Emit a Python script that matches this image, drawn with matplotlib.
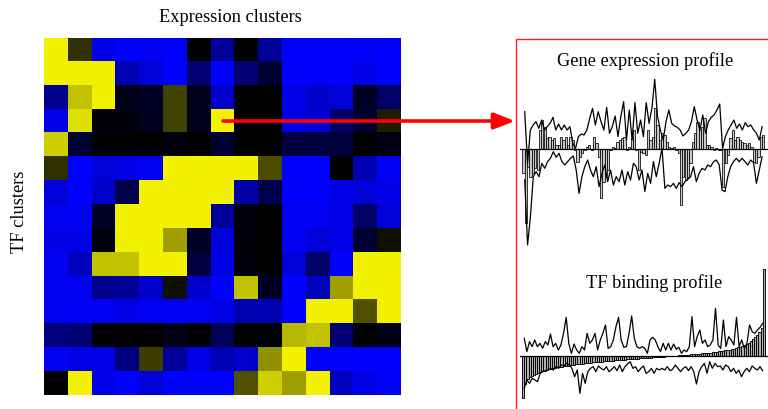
import numpy as np
import matplotlib
matplotlib.use('Agg')
import matplotlib.pyplot as plt
from matplotlib.colors import LinearSegmentedColormap
from matplotlib.patches import FancyArrowPatch, Rectangle

plt.rcParams['font.family'] = ['Liberation Serif', 'DejaVu Serif']

W, H = 768, 409

# heatmap values: -1 blue, 0 black, 1 yellow (rows top to bottom)
heat = [
    [1.0, 0.2, -0.9, -1.0, -0.95, -1.0, 0.0, -0.6, 0.0, -0.6, -1.0, -1.0, -1.0, -0.97, -1.0],
    [1.0, 1.0, 1.0, -0.7, -0.85, -1.0, -0.45, -1.0, -0.45, -0.2, -1.0, -1.0, -1.0, -0.9, -1.0],
    [-0.55, 0.8, 1.0, -0.1, -0.15, 0.27, -0.1, -0.8, 0.0, 0.0, -0.9, -0.8, -0.85, -0.15, -0.4],
    [-0.9, 0.92, -0.05, -0.05, -0.12, 0.27, -0.1, 1.0, 0.0, 0.0, -0.9, -0.85, -0.4, -0.2, 0.12],
    [0.85, -0.2, 0.0, 0.0, 0.0, -0.05, 0.0, -0.2, 0.0, 0.0, -0.25, -0.25, -0.25, 0.0, -0.08],
    [0.2, -1.0, -0.85, -0.9, -0.95, 1.0, 1.0, 1.0, 1.0, 0.32, -1.0, -1.0, 0.0, -0.7, -0.95],
    [-0.85, -1.0, -0.8, -0.3, 1.0, 1.0, 1.0, 1.0, -0.65, -0.3, -1.0, -1.0, -0.9, -0.85, -0.9],
    [-0.95, -0.95, -0.15, 1.0, 1.0, 1.0, 1.0, -0.6, -0.05, 0.0, -0.95, -0.95, -0.9, -0.4, -0.85],
    [-0.9, -0.9, -0.05, 1.0, 1.0, 0.65, -0.15, -0.85, -0.05, 0.0, -0.95, -0.85, -0.9, -0.2, 0.07],
    [-0.95, -0.75, 0.8, 0.8, 1.0, 1.0, -0.25, -0.9, -0.05, 0.0, -0.85, -0.4, -1.0, 1.0, 1.0],
    [-0.95, -0.95, -0.55, -0.6, -0.8, 0.07, -0.8, -1.0, 0.8, -0.15, -1.0, -0.75, 0.65, 1.0, 1.0],
    [-0.95, -0.95, -0.95, -0.9, -0.95, -0.95, -0.95, -0.9, -0.7, -0.7, -1.0, 1.0, 1.0, 0.33, 1.0],
    [-0.5, -0.45, 0.0, 0.0, 0.0, -0.1, 0.0, -0.35, 0.0, 0.0, 0.75, 0.8, -0.45, 0.0, -0.1],
    [-0.95, -0.9, -0.9, -0.5, 0.25, -0.6, -0.9, -0.7, -0.8, 0.6, 1.0, -1.0, -1.0, -1.0, -1.0],
    [0.0, 1.0, -0.9, -1.0, -0.85, -1.0, -1.0, -1.0, 0.33, 0.85, 0.65, 1.0, -0.75, -0.9, -1.0],
]

# gene expression profile (arbitrary units, 0 = baseline)
gene_bars = [-73, -223, -53, -83, -73, -58, -63, 57, 87, 67, 32, 37, 27, 32, 12,
             12, 37, 27, 37, 12, 37, 27, -3, -38, -23, -13, -3, 5, 12, -3, 37, 17,
             -23, -148, -98, -83, -63, -3, 7, 2, 22, 27, 32, 37, -3, 7, 32, 57, -3,
             -63, -8, -13, -18, 57, 27, 37, 122, 72, 27, 47, 42, 22, 7, 2, 7, -3,
             -13, -168, -83, -93, -83, -43, 22, 47, 82, 57, 67, 92, 12, 12, 7, -3,
             2, -3, -3, -113, -43, -18, 32, 57, 27, 37, 27, 22, 17, 12, 17, 7,
             -38, -43, -23, 37, 42]
gene_upper = [112, -43, 57, 72, 82, 62, 87, 57, 67, 77, 95, 57, 75, 57, 72, 57,
              67, 17, 2, 37, 45, 42, 57, 92, 122, 72, 112, 82, 57, 125, 47, 67,
              99, 37, 97, 142, 27, 117, 27, 139, 47, 87, 37, 139, 77, 122, 209,
              97, 57, 27, 82, 117, 77, 69, 65, 57, 39, 47, 57, 82, 127, 87, 57,
              102, 47, 82, 95, 102, 117, 135, 2, 37, 57, 72, 87, 62, 75, 57, 79,
              67, 72, 57, 47, 27, 67]
gene_lower = [-93, -288, -203, -83, -68, -83, -43, -58, -38, -28, -8, -25, -13,
              -38, -48, -38, -28, -21, -63, -133, -83, -53, -33, -63, -83, -53,
              -113, -73, -48, -98, -63, -108, -83, -98, -63, -108, -68, -93, -43,
              -53, -93, -63, -128, -73, -103, -38, -83, -43, 2, -118, -108, -113,
              -103, -118, -101, -113, -98, -91, -83, -53, -98, -73, -58, -63, -48,
              -53, -38, -33, -48, -123, -128, -83, -53, -38, -28, -38, -28, -38,
              -48, -33, -41, -103, -63, -23]

# TF binding profile (sorted bars) and its two lines
tf_bars = [-127, -85, -70, -64, -60, -56, -53, -50, -48, -46, -44, -42, -40, -38,
           -37, -36, -34, -33, -32, -31, -30, -29, -28, -27, -26, -25, -24, -24,
           -23, -22, -21, -21, -20, -19, -19, -18, -17, -17, -16, -16, -15, -14,
           -14, -13, -13, -12, -12, -11, -11, -10, -10, -9, -9, -8, -8, -7, -7,
           -6, -6, -5, -5, -4, -4, -3, -3, -2, -2, -1, -1, 0, 0, 1, 1, 2, 2, 3,
           3, 4, 4, 5, 5, 6, 6, 7, 8, 8, 9, 10, 10, 11, 12, 13, 14, 15, 16, 17,
           18, 19, 21, 22, 24, 26, 28, 30, 33, 36, 40, 45, 50, 56, 63, 72, 85, 260]
tf_upper = [53, 13, 43, 28, 48, 28, 38, 23, 43, 33, 66, 28, 38, 18, 33, 68, 116,
            38, 8, 36, 18, 8, 28, 18, 68, 38, 48, 68, 18, 48, 68, 93, 23, 28, 48,
            88, 116, 48, 26, 28, 68, 120, 53, 28, 23, 28, 23, 8, 48, 56, 48, 28,
            13, 38, 18, 38, 18, 36, 20, 26, 8, 18, 13, 28, 118, 28, 58, 78, 38,
            48, 28, 33, 48, 143, 33, 23, 108, 28, 58, 48, 33, 116, 28, 48, 23, 38,
            93, 73, 68, 78, 86, 98]
tf_lower = [-97, -72, -82, -67, -72, -77, -52, -47, -44, -42, -37, -42, -32, -37,
            -27, -30, -22, -27, -37, -62, -42, -112, -52, -82, -47, -37, -32, -47,
            -30, -37, -42, -32, -47, -40, -32, -44, -27, -47, -32, -24, -17, -37,
            -32, -47, -37, -30, -52, -47, -37, -52, -37, -42, -37, -42, -32, -44,
            -40, -27, -37, -47, -37, -32, -44, -32, -47, -84, -47, -32, -22, -52,
            -17, -37, -22, -32, -30, -42, -27, -32, -47, -37, -52, -42, -62, -47,
            -37, -47, -30, -37, -42, -32, -44]


def px_axes(x0, y0, x1, y1):
    # axes placed by pixel box (top-left origin)
    return fig.add_axes([x0 / W, 1 - y1 / H, (x1 - x0) / W, (y1 - y0) / H])


fig = plt.figure(figsize=(W / 100, H / 100), dpi=100)

# heatmap
cmap = LinearSegmentedColormap.from_list('byk', [(0, 0, 1), (0, 0, 0), (0.95, 0.95, 0)])
axh = px_axes(44, 37.7, 401, 395)
axh.imshow(np.array(heat), cmap=cmap, vmin=-1, vmax=1, aspect='auto',
           interpolation='nearest')
axh.set_axis_off()
fig.text(230 / W, 1 - 17 / H, 'Expression clusters', ha='center', va='center',
         fontsize=13.2)
fig.text(20 / W, 1 - 212 / H, 'TF clusters', ha='center', va='center',
         rotation=90, fontsize=13.2)

# red frame round the profiles
fig.add_artist(Rectangle((516 / W, -0.1), 1.0, 1 - 39 / H + 0.1,
                         transform=fig.transFigure, fill=False,
                         edgecolor='#ff2020', lw=1.0))

# red arrow
fig.add_artist(FancyArrowPatch((223 / W, 1 - 121 / H), (515 / W, 1 - 121 / H),
                               transform=fig.transFigure, color='#ff0000',
                               arrowstyle='-|>,head_length=0.9,head_width=0.35',
                               mutation_scale=14, lw=2.6, shrinkA=0, shrinkB=0))


def profile(ax, bars, upper, lower, face, bw, blw, ylo, yhi):
    n = len(bars)
    xb = np.arange(n)
    ax.bar(xb, bars, width=bw, color=face, edgecolor='black', lw=blw)
    ax.plot(np.linspace(0.5, n - 1.5, len(upper)), upper, color='black', lw=0.9)
    ax.plot(np.linspace(0.5, n - 1.5, len(lower)), lower, color='black', lw=0.9)
    ax.axhline(0, color='black', lw=0.9)
    ax.set_xlim(-1.5, n + 1)
    ax.set_ylim(ylo, yhi)
    ax.set_axis_off()


# gene expression panel: baseline at y=149 px, 3 units per px
axg = px_axes(520, 66, 768, 252)
profile(axg, gene_bars, gene_upper, gene_lower, '#c8c8c8', 0.95, 0.55,
        (149 - 252) * 3, (149 - 66) * 3)
fig.text(645 / W, 1 - 61 / H, 'Gene expression profile', ha='center',
         va='center', fontsize=13.2)

# TF binding panel: baseline at y=356 px
axt = px_axes(520, 262, 768, 405)
profile(axt, tf_bars, tf_upper, tf_lower, '#b0b0b0', 1.0, 0.65,
        (356 - 405) * 3, (356 - 262) * 3)
fig.text(654 / W, 1 - 283 / H, 'TF binding profile', ha='center',
         va='center', fontsize=13.2)

fig.savefig('out.png', dpi=100)
